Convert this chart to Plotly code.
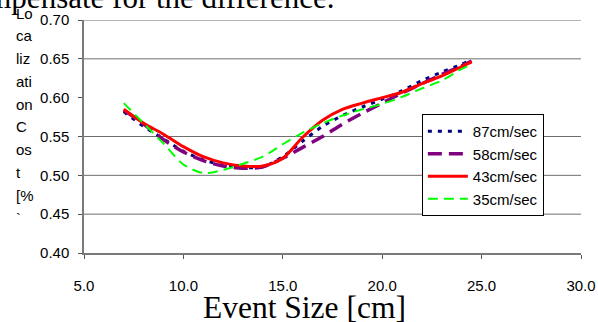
import plotly.graph_objects as go

# ---- data ----
event_size = [7, 8, 9, 10, 11, 12, 13, 14, 15, 16, 17, 18, 19, 20, 21, 22, 23, 24, 24.5]
cost_87 = [0.582, 0.563, 0.547, 0.531, 0.520, 0.513, 0.510, 0.511, 0.524, 0.544,
           0.563, 0.577, 0.588, 0.598, 0.609, 0.622, 0.633, 0.643, 0.649]
cost_58 = [0.584, 0.566, 0.546, 0.530, 0.519, 0.512, 0.509, 0.511, 0.522, 0.536,
           0.550, 0.566, 0.580, 0.593, 0.606, 0.618, 0.630, 0.641, 0.647]
cost_43 = [0.585, 0.567, 0.553, 0.537, 0.524, 0.516, 0.512, 0.512, 0.522, 0.549,
           0.571, 0.585, 0.593, 0.600, 0.607, 0.618, 0.628, 0.640, 0.646]
cost_35 = [0.593, 0.567, 0.541, 0.514, 0.503, 0.507, 0.515, 0.524, 0.540, 0.555,
           0.567, 0.577, 0.585, 0.592, 0.601, 0.612, 0.622, 0.637, 0.643]
series_names = ["87cm/sec", "58cm/sec", "43cm/sec", "35cm/sec"]
x_ticks = [5, 10, 15, 20, 25, 30]
y_ticks = [0.40, 0.45, 0.50, 0.55, 0.60, 0.65, 0.70]
grid_values = [0.45, 0.50, 0.55, 0.65, 0.70]
y_title_lines = ["Lo", "ca", "liz", "ati", "on", "C", "os", "t", "[%", "`"]
x_title = "Event Size [cm]"
top_text = "compensate for the difference."

# ---- layout geometry ----
W, H = 598, 322
ML, MR, MT, MB = 83.5, 17, 20, 69
PW, PH = W - ML - MR, H - MT - MB


def px_x(p):
    return (p - ML) / PW


def px_y(p):
    return (H - MB - p) / PH


styles = [
    dict(color="#000080", width=3, dash="4px,6px"),
    dict(color="#800080", width=3.5, dash="14px,7px"),
    dict(color="#FF0000", width=3, dash="solid"),
    dict(color="#00FF00", width=2, dash="10px,6px"),
]
values = [cost_87, cost_58, cost_43, cost_35]

fig = go.Figure()
for name, vals, st in zip(series_names, values, styles):
    fig.add_trace(go.Scatter(x=event_size, y=vals, mode="lines", name=name,
                             line=dict(shape="spline", smoothing=0.8, **st)))

shapes = [dict(type="line", xref="paper", x0=0, x1=1, yref="y", y0=g, y1=g,
               line=dict(color="#6e6e6e", width=1), layer="below")
          for g in grid_values]

annotations = []
for i, t in enumerate(y_title_lines):
    annotations.append(dict(text=t, xref="paper", yref="paper", x=px_x(13),
                            y=px_y(13 + i * 22.8), xanchor="left", yanchor="middle",
                            showarrow=False,
                            font=dict(family="Liberation Sans", size=15, color="#000")))
annotations.append(dict(text=x_title, xref="paper", yref="paper", x=px_x(304),
                        y=px_y(307), xanchor="center", yanchor="middle", showarrow=False,
                        font=dict(family="Liberation Serif", size=31.5, color="#000")))
annotations.append(dict(text=top_text, xref="paper", yref="paper", x=px_x(336),
                        y=px_y(-3), xanchor="right", yanchor="middle", showarrow=False,
                        font=dict(family="Liberation Serif", size=31, color="#000")))

fig.update_layout(
    width=W, height=H, autosize=False,
    margin=dict(l=ML, r=MR, t=MT, b=MB, pad=0, autoexpand=False),
    paper_bgcolor="white", plot_bgcolor="white",
    font=dict(family="Liberation Sans", size=15, color="#000"),
    showlegend=True,
    legend=dict(x=px_x(421.7), y=px_y(114), xanchor="left", yanchor="top",
                bgcolor="white", bordercolor="#000", borderwidth=1,
                font=dict(family="Liberation Sans", size=15, color="#000"),
                itemwidth=40, tracegroupgap=0),
    shapes=shapes,
    annotations=annotations,
    xaxis=dict(range=[5, 30], tickvals=x_ticks, tickformat=".1f", showgrid=False,
               zeroline=False, showline=True, linecolor="#7a7a7a", linewidth=1.5,
               ticks="outside", ticklen=4, tickcolor="#555", tickwidth=1,
               ticklabelstandoff=14, tickfont=dict(size=15), automargin=False),
    yaxis=dict(range=[0.40, 0.70], tickvals=y_ticks, tickformat=".2f", showgrid=False,
               zeroline=False, showline=True, linecolor="#7a7a7a", linewidth=1.5,
               ticks="outside", ticklen=4, tickcolor="#555", tickwidth=1,
               ticklabelstandoff=6, tickfont=dict(size=15), automargin=False),
)

fig.write_html("out.html", config={"displayModeBar": False},
               post_script="document.body.style.margin='0';document.body.style.overflow='hidden';")
